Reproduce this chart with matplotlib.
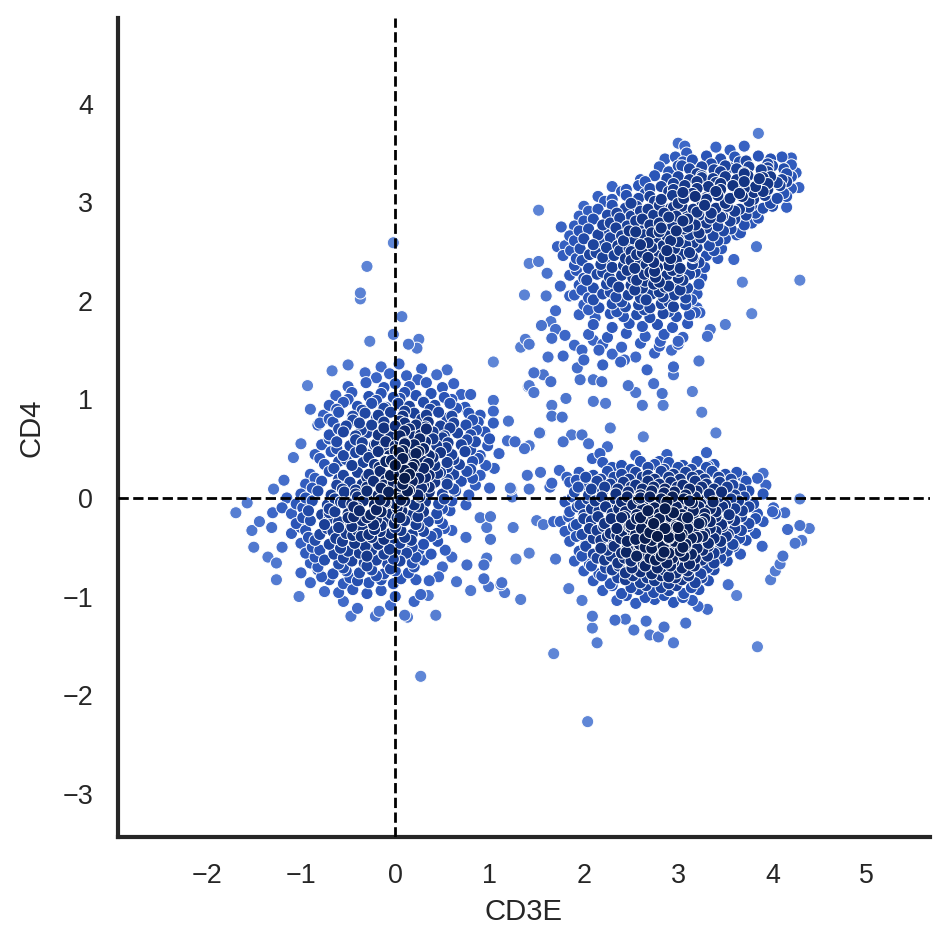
import numpy as np
import matplotlib
matplotlib.use("Agg")
import matplotlib.pyplot as plt
from matplotlib.colors import LinearSegmentedColormap

# CD4 / CD3E scatter

# left cluster (CD3E ~ 0) - dense body
left_core = [
    (-0.15, 1.33), (0.04, 1.36), (0.28, 1.31), (-0.32, 1.27), (-0.2, 1.22), (-0.06, 1.26), (0.12, 1.24), (0.24, 1.2), (0.44, 1.25),
    (-0.5, 1.13), (-0.31, 1.17), (-0.12, 1.12), (0.0, 1.16), (0.15, 1.13), (0.33, 1.17), (0.5, 1.12), (0.62, 1.16),
    (-0.63, 1.04), (-0.46, 1.07), (-0.28, 1.03), (-0.15, 1.06), (-0.02, 1.02), (0.1, 1.07), (0.22, 1.04), (0.38, 1.06), (0.52, 1.02), (0.7, 1.05),
    (-0.7, 0.94), (-0.55, 0.97), (-0.4, 0.93), (-0.25, 0.96), (-0.1, 0.92), (0.03, 0.96), (0.15, 0.93), (0.3, 0.97), (0.42, 0.94), (0.58, 0.96), (0.74, 0.92),
    (-0.76, 0.84), (-0.6, 0.87), (-0.45, 0.83), (-0.32, 0.86), (-0.18, 0.84), (-0.05, 0.87), (0.08, 0.83), (0.2, 0.86), (0.33, 0.84), (0.46, 0.87), (0.6, 0.83), (0.78, 0.86), (0.9, 0.84),
    (-0.82, 0.74), (-0.66, 0.77), (-0.52, 0.73), (-0.38, 0.76), (-0.25, 0.74), (-0.12, 0.77), (0.0, 0.73), (0.1, 0.76), (0.22, 0.74), (0.35, 0.77), (0.48, 0.73), (0.62, 0.76), (0.75, 0.74), (0.88, 0.77),
    (-0.7, 0.64), (-0.55, 0.67), (-0.42, 0.63), (-0.3, 0.66), (-0.18, 0.64), (-0.06, 0.67), (0.05, 0.63), (0.16, 0.66), (0.27, 0.64), (0.4, 0.67), (0.52, 0.63), (0.66, 0.66), (0.8, 0.64), (0.95, 0.67),
    (-0.78, 0.54), (-0.62, 0.57), (-0.48, 0.53), (-0.35, 0.56), (-0.22, 0.54), (-0.1, 0.57), (0.0, 0.53), (0.1, 0.56), (0.2, 0.54), (0.32, 0.57), (0.44, 0.53), (0.56, 0.56), (0.7, 0.54), (0.85, 0.57), (0.98, 0.53),
    (-0.85, 0.44), (-0.68, 0.47), (-0.55, 0.43), (-0.42, 0.46), (-0.3, 0.44), (-0.18, 0.47), (-0.06, 0.43), (0.04, 0.46), (0.14, 0.44), (0.25, 0.47), (0.36, 0.43), (0.48, 0.46), (0.6, 0.44), (0.74, 0.47), (0.9, 0.43),
    (-0.75, 0.34), (-0.6, 0.37), (-0.46, 0.33), (-0.34, 0.36), (-0.22, 0.34), (-0.1, 0.37), (0.0, 0.33), (0.1, 0.36), (0.2, 0.34), (0.3, 0.37), (0.42, 0.33), (0.55, 0.36), (0.68, 0.34), (0.82, 0.37), (0.96, 0.33),
    (-0.9, 0.24), (-0.7, 0.27), (-0.55, 0.23), (-0.4, 0.26), (-0.28, 0.24), (-0.16, 0.27), (-0.05, 0.23), (0.05, 0.26), (0.15, 0.24), (0.25, 0.27), (0.36, 0.23), (0.48, 0.26), (0.62, 0.24), (0.76, 0.27), (0.9, 0.23),
    (-0.95, 0.14), (-0.78, 0.17), (-0.62, 0.13), (-0.48, 0.16), (-0.35, 0.14), (-0.23, 0.17), (-0.12, 0.13), (-0.02, 0.16), (0.08, 0.14), (0.18, 0.17), (0.3, 0.13), (0.42, 0.16), (0.55, 0.14), (0.7, 0.17), (0.85, 0.13),
    (-1.0, 0.04), (-0.82, 0.07), (-0.68, 0.03), (-0.54, 0.06), (-0.42, 0.04), (-0.3, 0.07), (-0.18, 0.03), (-0.07, 0.06), (0.03, 0.04), (0.13, 0.07), (0.24, 0.03), (0.36, 0.06), (0.5, 0.04), (0.64, 0.07), (0.78, 0.03),
    (-1.05, -0.06), (-0.88, -0.03), (-0.72, -0.07), (-0.58, -0.04), (-0.46, -0.06), (-0.34, -0.03), (-0.22, -0.07), (-0.11, -0.04), (0.0, -0.06), (0.1, -0.03), (0.2, -0.07), (0.32, -0.04), (0.46, -0.06), (0.6, -0.03), (0.75, -0.07),
    (-1.1, -0.16), (-0.92, -0.13), (-0.78, -0.17), (-0.64, -0.14), (-0.5, -0.16), (-0.38, -0.13), (-0.26, -0.17), (-0.15, -0.14), (-0.04, -0.16), (0.07, -0.13), (0.18, -0.17), (0.3, -0.14), (0.44, -0.16), (0.58, -0.13),
    (-1.05, -0.26), (-0.9, -0.23), (-0.75, -0.27), (-0.6, -0.24), (-0.47, -0.26), (-0.35, -0.23), (-0.23, -0.27), (-0.12, -0.24), (-0.01, -0.26), (0.1, -0.23), (0.22, -0.27), (0.35, -0.24), (0.5, -0.26),
    (-1.1, -0.36), (-0.95, -0.33), (-0.8, -0.37), (-0.66, -0.34), (-0.52, -0.36), (-0.4, -0.33), (-0.28, -0.37), (-0.16, -0.34), (-0.05, -0.36), (0.06, -0.33), (0.18, -0.37), (0.3, -0.34), (0.44, -0.36), (0.6, -0.33),
    (-1.0, -0.46), (-0.85, -0.43), (-0.7, -0.47), (-0.56, -0.44), (-0.43, -0.46), (-0.3, -0.43), (-0.18, -0.47), (-0.06, -0.44), (0.05, -0.46), (0.17, -0.43), (0.3, -0.47), (0.45, -0.44),
    (-0.95, -0.56), (-0.8, -0.53), (-0.65, -0.57), (-0.5, -0.54), (-0.38, -0.56), (-0.25, -0.53), (-0.12, -0.57), (0.0, -0.54), (0.12, -0.56), (0.25, -0.53), (0.38, -0.57),
    (-0.9, -0.66), (-0.75, -0.63), (-0.6, -0.67), (-0.46, -0.64), (-0.33, -0.66), (-0.2, -0.63), (-0.08, -0.67), (0.05, -0.64), (0.18, -0.66), (0.3, -0.63),
    (-1.0, -0.76), (-0.82, -0.73), (-0.66, -0.77), (-0.52, -0.74), (-0.38, -0.76), (-0.25, -0.73), (-0.12, -0.77), (0.0, -0.74), (0.14, -0.76),
    (-0.9, -0.86), (-0.7, -0.83), (-0.55, -0.87), (-0.4, -0.84), (-0.28, -0.86), (-0.15, -0.83), (-0.02, -0.87),
    (-0.6, -0.96), (-0.45, -0.93), (-0.3, -0.97), (-0.15, -0.94),
]
left_fill = [
    (-0.5, 1.0), (-0.2, 0.99), (0.05, 1.01), (0.3, 0.98), (0.6, 1.0),
    (-0.62, 0.9), (-0.35, 0.89), (-0.12, 0.91), (0.1, 0.88), (0.37, 0.9), (0.65, 0.91),
    (-0.7, 0.8), (-0.45, 0.79), (-0.2, 0.81), (0.05, 0.78), (0.28, 0.8), (0.55, 0.81), (0.82, 0.79),
    (-0.6, 0.7), (-0.36, 0.69), (-0.12, 0.71), (0.1, 0.68), (0.33, 0.7), (0.58, 0.71), (0.86, 0.69),
    (-0.7, 0.6), (-0.42, 0.59), (-0.16, 0.61), (0.05, 0.58), (0.26, 0.6), (0.5, 0.61), (0.76, 0.59),
    (-0.62, 0.5), (-0.36, 0.49), (-0.12, 0.51), (0.08, 0.48), (0.3, 0.5), (0.54, 0.51), (0.8, 0.49),
    (-0.8, 0.4), (-0.52, 0.39), (-0.28, 0.41), (-0.04, 0.38), (0.16, 0.4), (0.4, 0.41), (0.62, 0.39), (0.88, 0.4),
    (-0.65, 0.3), (-0.4, 0.29), (-0.17, 0.31), (0.1, 0.28), (0.3, 0.3), (0.55, 0.31), (0.8, 0.29),
    (-0.85, 0.2), (-0.6, 0.19), (-0.3, 0.21), (-0.1, 0.18), (0.1, 0.2), (0.32, 0.21), (0.55, 0.19), (0.82, 0.2),
    (-0.88, 0.1), (-0.56, 0.09), (-0.3, 0.11), (-0.07, 0.08), (0.13, 0.1), (0.36, 0.11), (0.62, 0.09),
    (-0.95, 0.0), (-0.64, -0.01), (-0.4, 0.01), (-0.16, -0.02), (0.05, 0.0), (0.26, 0.01), (0.52, -0.01),
    (-0.98, -0.1), (-0.7, -0.11), (-0.44, -0.09), (-0.2, -0.12), (0.02, -0.1), (0.25, -0.09), (0.5, -0.11),
    (-0.98, -0.2), (-0.7, -0.21), (-0.44, -0.19), (-0.2, -0.22), (0.02, -0.2), (0.24, -0.19), (0.45, -0.21),
    (-1.0, -0.3), (-0.72, -0.31), (-0.46, -0.29), (-0.22, -0.32), (0.0, -0.3), (0.25, -0.29), (0.52, -0.31),
    (-0.92, -0.4), (-0.63, -0.41), (-0.36, -0.39), (-0.12, -0.42), (0.1, -0.4), (0.38, -0.39),
    (-0.88, -0.5), (-0.58, -0.51), (-0.32, -0.49), (-0.06, -0.52), (0.18, -0.5),
    (-0.85, -0.6), (-0.55, -0.61), (-0.3, -0.59), (-0.02, -0.62), (0.22, -0.6),
    (-0.82, -0.7), (-0.55, -0.71), (-0.3, -0.69), (-0.05, -0.72), (0.2, -0.7),
    (-0.78, -0.8), (-0.48, -0.81), (-0.2, -0.79), (0.06, -0.82),
]
left_dense = [
    (0.05, 0.12), (0.12, 0.22), (0.18, 0.31), (0.08, 0.4), (0.22, 0.45), (0.02, 0.3), (-0.05, 0.18), (0.15, 0.08),
    (0.25, 0.2), (0.1, 0.55), (0.3, 0.5), (0.2, 0.62), (0.0, 0.48), (-0.1, 0.38), (0.35, 0.35), (0.28, 0.1),
    (-0.02, 0.05), (0.06, -0.02), (-0.15, 0.1), (0.4, 0.6), (0.15, 0.7), (-0.2, 0.55), (-0.3, 0.0), (-0.4, -0.1),
    (-0.5, -0.2), (-0.2, -0.12), (-0.35, -0.3), (-0.25, -0.4), (-0.45, -0.38), (-0.55, -0.05), (-0.15, -0.28),
    (-0.6, -0.3), (-0.1, -0.05), (-0.3, -0.2), (0.05, -0.2), (-0.42, 0.08), (-0.7, -0.15), (-0.05, 0.62),
    (0.45, 0.25), (0.32, 0.72),
]
left_sparse = [
    (-0.02, 2.59), (-0.30, 2.35), (-0.37, 2.08), (-0.37, 2.02), (0.07, 1.84), (-0.02, 1.66), (-0.27, 1.59),
    (0.25, 1.61), (0.14, 1.56), (0.23, 1.52), (-0.67, 1.29), (-0.93, 1.14), (-0.80, 0.76), (-1.08, 0.41),
    (-1.18, 0.18), (-1.29, 0.09), (-1.57, -0.05), (-1.69, -0.15), (-1.44, -0.24), (-1.52, -0.33), (-1.50, -0.50),
    (-1.31, -0.30), (-1.26, -0.66), (-1.26, -0.83), (-1.02, -1.00), (-0.47, -1.20), (-0.40, -1.12), (-0.21, -1.20),
    (-0.17, -1.15), (-0.05, -1.09), (0.10, -1.19), (0.13, -1.21), (0.43, -1.19), (0.27, -1.81), (0.27, -0.98),
    (0.35, -0.99), (0.22, -0.83), (0.36, -0.84), (0.46, -0.80), (0.76, -0.68), (0.80, -0.94), (0.94, -0.68),
    (0.94, -0.82), (0.99, -0.90), (1.12, -0.88), (1.16, -0.96), (1.33, -1.03), (1.28, -0.62), (1.42, -0.56),
    (1.25, -0.30), (0.97, -0.61), (1.01, -0.42), (0.97, -0.30), (1.01, -0.19), (1.22, 0.10), (1.42, 0.09),
    (1.54, 0.26), (1.40, 0.23), (1.20, 0.78), (1.19, 0.58), (1.27, 0.57), (1.37, 0.50), (1.42, 0.53),
    (1.53, 0.66), (1.04, 1.38), (1.04, 0.99), (1.04, 0.88), (1.04, 0.76), (1.42, 1.14), (1.47, 1.07),
    (-0.5, 1.35), (0.55, 1.3), (0.8, 1.05), (1.0, 0.6), (1.1, 0.45), (1.05, 0.3), (1.0, 0.1), (0.9, -0.2),
    (0.75, -0.4), (0.6, -0.6), (0.5, -0.7), (-1.2, -0.5), (-1.15, 0.0), (-1.0, 0.55), (-0.9, 0.9),
    (-0.55, -1.05), (-0.75, -0.95), (0.0, -1.0), (0.2, -1.05), (-1.2, -0.1), (-1.35, -0.6), (-1.3, -0.15),
    (0.53, -0.53), (0.65, -0.85),
]

# upper right cluster (CD3E+ CD4+)
upper_core = [
    (3.4, 3.56), (3.55, 3.53), (3.7, 3.57),
    (2.97, 3.46), (3.15, 3.43), (3.3, 3.47), (3.45, 3.44), (3.6, 3.46), (3.72, 3.42), (3.85, 3.47), (3.98, 3.44), (4.1, 3.46),
    (2.8, 3.36), (3.0, 3.37), (3.12, 3.34), (3.25, 3.36), (3.38, 3.33), (3.5, 3.37), (3.62, 3.34), (3.75, 3.36), (3.88, 3.33), (4.0, 3.37), (4.12, 3.34), (4.2, 3.38),
    (2.6, 3.23), (2.75, 3.27), (2.88, 3.24), (3.0, 3.26), (3.12, 3.23), (3.25, 3.27), (3.37, 3.24), (3.5, 3.26), (3.62, 3.23), (3.74, 3.27), (3.86, 3.24), (3.98, 3.26), (4.1, 3.23), (4.2, 3.26),
    (2.3, 3.16), (2.45, 3.13), (2.58, 3.17), (2.7, 3.14), (2.82, 3.16), (2.95, 3.13), (3.07, 3.17), (3.2, 3.14), (3.32, 3.16), (3.45, 3.13), (3.58, 3.17), (3.7, 3.14), (3.82, 3.16), (3.95, 3.13), (4.08, 3.17), (4.2, 3.14),
    (2.15, 3.06), (2.3, 3.03), (2.45, 3.07), (2.58, 3.04), (2.7, 3.06), (2.82, 3.03), (2.94, 3.07), (3.06, 3.04), (3.18, 3.06), (3.3, 3.03), (3.42, 3.07), (3.55, 3.04), (3.68, 3.06), (3.8, 3.03), (3.92, 3.07), (4.05, 3.04), (4.15, 3.06),
    (2.0, 2.96), (2.15, 2.93), (2.3, 2.97), (2.44, 2.94), (2.56, 2.96), (2.68, 2.93), (2.8, 2.97), (2.92, 2.94), (3.04, 2.96), (3.16, 2.93), (3.28, 2.97), (3.4, 2.94), (3.52, 2.96), (3.65, 2.93), (3.78, 2.97), (3.9, 2.94), (4.0, 2.96),
    (1.95, 2.86), (2.1, 2.83), (2.25, 2.87), (2.38, 2.84), (2.5, 2.86), (2.62, 2.83), (2.74, 2.87), (2.86, 2.84), (2.98, 2.86), (3.1, 2.83), (3.22, 2.87), (3.34, 2.84), (3.47, 2.86), (3.6, 2.83), (3.72, 2.87), (3.85, 2.84),
    (1.9, 2.76), (2.05, 2.73), (2.2, 2.77), (2.34, 2.74), (2.46, 2.76), (2.58, 2.73), (2.7, 2.77), (2.82, 2.74), (2.94, 2.76), (3.06, 2.73), (3.18, 2.77), (3.3, 2.74), (3.42, 2.76), (3.56, 2.73), (3.7, 2.77),
    (1.85, 2.66), (2.0, 2.63), (2.15, 2.67), (2.28, 2.64), (2.4, 2.66), (2.52, 2.63), (2.64, 2.67), (2.76, 2.64), (2.88, 2.66), (3.0, 2.63), (3.12, 2.67), (3.24, 2.64), (3.37, 2.66), (3.5, 2.63), (3.62, 2.67),
    (1.8, 2.56), (1.96, 2.53), (2.1, 2.57), (2.24, 2.54), (2.36, 2.56), (2.48, 2.53), (2.6, 2.57), (2.72, 2.54), (2.84, 2.56), (2.96, 2.53), (3.08, 2.57), (3.2, 2.54), (3.33, 2.56), (3.46, 2.53),
    (1.78, 2.46), (1.92, 2.43), (2.06, 2.47), (2.2, 2.44), (2.32, 2.46), (2.44, 2.43), (2.56, 2.47), (2.68, 2.44), (2.8, 2.46), (2.92, 2.43), (3.04, 2.47), (3.16, 2.44), (3.3, 2.46), (3.42, 2.43),
    (1.9, 2.36), (2.05, 2.33), (2.18, 2.37), (2.3, 2.34), (2.42, 2.36), (2.54, 2.33), (2.66, 2.37), (2.78, 2.34), (2.9, 2.36), (3.02, 2.33), (3.15, 2.37), (3.28, 2.34),
    (1.85, 2.26), (2.0, 2.23), (2.14, 2.27), (2.27, 2.24), (2.4, 2.26), (2.52, 2.23), (2.64, 2.27), (2.76, 2.24), (2.88, 2.26), (3.0, 2.23), (3.12, 2.27), (3.25, 2.24),
    (1.95, 2.16), (2.1, 2.13), (2.24, 2.17), (2.37, 2.14), (2.5, 2.16), (2.62, 2.13), (2.74, 2.17), (2.86, 2.14), (2.98, 2.16), (3.1, 2.13), (3.22, 2.17),
    (1.9, 2.06), (2.05, 2.03), (2.2, 2.07), (2.34, 2.04), (2.47, 2.06), (2.6, 2.03), (2.72, 2.07), (2.84, 2.04), (2.96, 2.06), (3.08, 2.03), (3.2, 2.07),
    (2.0, 1.96), (2.16, 1.93), (2.3, 1.97), (2.44, 1.94), (2.58, 1.96), (2.7, 1.93), (2.82, 1.97), (2.95, 1.94), (3.08, 1.96), (3.2, 1.93),
    (1.95, 1.86), (2.12, 1.83), (2.28, 1.87), (2.42, 1.84), (2.56, 1.86), (2.7, 1.83), (2.84, 1.87), (2.98, 1.84), (3.12, 1.86),
    (2.1, 1.76), (2.3, 1.73), (2.48, 1.77), (2.62, 1.74), (2.78, 1.76), (2.94, 1.73), (3.1, 1.77),
    (2.05, 1.66), (2.25, 1.63), (2.45, 1.67), (2.65, 1.64), (2.85, 1.66), (3.05, 1.63),
    (2.2, 1.56), (2.4, 1.53), (2.6, 1.57), (2.8, 1.54), (3.0, 1.56),
    (2.3, 1.46), (2.55, 1.43), (2.75, 1.47),
]
upper_fill = [
    (3.05, 3.41), (3.35, 3.39), (3.65, 3.41), (3.95, 3.39),
    (2.9, 3.31), (3.2, 3.29), (3.45, 3.31), (3.7, 3.29), (3.95, 3.31), (4.15, 3.29),
    (2.65, 3.21), (2.95, 3.19), (3.2, 3.21), (3.45, 3.19), (3.7, 3.21), (3.95, 3.19), (4.15, 3.21),
    (2.4, 3.11), (2.65, 3.09), (2.9, 3.11), (3.15, 3.09), (3.4, 3.11), (3.65, 3.09), (3.9, 3.11), (4.12, 3.09),
    (2.22, 3.01), (2.5, 2.99), (2.75, 3.01), (3.0, 2.99), (3.25, 3.01), (3.5, 2.99), (3.75, 3.01), (3.98, 2.99),
    (2.05, 2.91), (2.35, 2.89), (2.6, 2.91), (2.85, 2.89), (3.1, 2.91), (3.35, 2.89), (3.6, 2.91), (3.82, 2.89),
    (2.0, 2.81), (2.28, 2.79), (2.55, 2.81), (2.8, 2.79), (3.05, 2.81), (3.3, 2.79), (3.55, 2.81), (3.78, 2.79),
    (1.95, 2.71), (2.22, 2.69), (2.48, 2.71), (2.72, 2.69), (2.98, 2.71), (3.22, 2.69), (3.48, 2.71), (3.66, 2.69),
    (1.9, 2.61), (2.18, 2.59), (2.42, 2.61), (2.68, 2.59), (2.92, 2.61), (3.16, 2.59), (3.42, 2.61),
    (1.86, 2.51), (2.13, 2.49), (2.38, 2.51), (2.62, 2.49), (2.88, 2.51), (3.12, 2.49), (3.38, 2.51),
    (1.98, 2.41), (2.25, 2.39), (2.5, 2.41), (2.74, 2.39), (2.98, 2.41), (3.22, 2.39),
    (1.92, 2.31), (2.2, 2.29), (2.46, 2.31), (2.7, 2.29), (2.94, 2.31), (3.18, 2.29),
    (2.03, 2.21), (2.3, 2.19), (2.56, 2.21), (2.8, 2.19), (3.05, 2.21),
    (1.98, 2.11), (2.28, 2.09), (2.54, 2.11), (2.8, 2.09), (3.02, 2.11),
    (2.1, 2.01), (2.4, 1.99), (2.66, 2.01), (2.9, 1.99), (3.14, 2.01),
    (2.05, 1.91), (2.35, 1.89), (2.64, 1.91), (2.9, 1.89),
]
upper_dense = [
    (2.6, 2.4), (2.7, 2.55), (2.8, 2.7), (2.9, 2.85), (3.0, 2.6), (3.1, 2.75), (2.75, 2.3), (2.85, 2.45),
    (2.95, 2.95), (3.05, 3.1), (3.2, 2.9), (3.3, 3.05), (3.4, 3.2), (3.5, 3.0), (3.6, 3.15), (3.7, 3.3),
    (3.8, 3.1), (3.9, 3.25), (3.55, 3.35), (3.25, 3.25), (2.65, 2.2), (2.5, 2.5), (3.15, 2.45), (3.0, 2.3),
    (2.55, 2.7), (3.45, 2.85), (3.95, 3.35), (4.05, 3.2), (3.75, 2.95), (2.9, 2.15),
]
upper_sparse = [
    (3.85, 3.70), (3.00, 3.60), (3.07, 3.57), (3.09, 3.50), (2.86, 3.44), (3.04, 3.37), (1.52, 2.92), (1.76, 2.75),
    (4.29, 2.21), (3.78, 1.87), (3.68, 2.19), (3.59, 2.42), (3.83, 2.55), (1.42, 2.38), (1.52, 2.40), (1.37, 2.06),
    (1.61, 2.28), (1.33, 1.53), (1.42, 1.56), (1.38, 1.61), (1.54, 0.66), (1.47, 1.27), (1.41, 1.13),
    (1.66, 0.94), (1.77, 0.82), (1.66, 0.83), (1.87, 0.64), (1.98, 0.64), (2.28, 0.71), (2.63, 0.62), (2.10, 0.98),
    (2.23, 0.96), (1.81, 1.01), (3.15, 1.08), (3.25, 0.87), (3.40, 0.66), (2.84, 0.94), (2.62, 0.94), (2.74, 1.16),
    (2.83, 1.06), (2.95, 1.33), (2.95, 1.25), (3.22, 1.39), (3.50, 1.76), (3.18, 1.88), (3.23, 1.88), (3.31, 1.64),
    (3.34, 1.71), (2.67, 1.30), (2.47, 1.14), (2.55, 1.07), (2.39, 1.38), (2.43, 1.40), (1.96, 1.20), (2.10, 1.20),
    (2.19, 1.18), (1.93, 1.32), (1.57, 1.25), (1.65, 1.18), (2.16, 1.50), (1.98, 1.50), (1.78, 1.44), (1.62, 1.43),
    (1.66, 1.62), (1.70, 1.71), (1.65, 1.79), (2.81, 1.59), (2.93, 1.50), (3.00, 1.59), (4.25, 3.3), (4.28, 3.15),
    (4.2, 3.45), (4.15, 2.95), (1.7, 1.9), (1.85, 2.05), (1.75, 2.15), (1.6, 2.05), (1.72, 2.55), (1.55, 1.75),
    (1.8, 1.65), (1.9, 1.55), (2.0, 1.4), (2.2, 1.35), (2.1, 1.6),
]

# lower right cluster (CD3E+ CD4-)
lower_core = [
    (2.2, 0.36), (2.4, 0.33), (2.6, 0.37), (2.75, 0.34), (2.9, 0.36), (3.05, 0.33), (3.2, 0.37), (3.38, 0.34),
    (1.95, 0.26), (2.1, 0.23), (2.25, 0.27), (2.4, 0.24), (2.55, 0.26), (2.68, 0.23), (2.82, 0.27), (2.95, 0.24), (3.08, 0.26), (3.22, 0.23), (3.36, 0.27), (3.5, 0.24), (3.62, 0.26),
    (1.85, 0.16), (2.0, 0.13), (2.14, 0.17), (2.28, 0.14), (2.42, 0.16), (2.55, 0.13), (2.68, 0.17), (2.8, 0.14), (2.92, 0.16), (3.05, 0.13), (3.18, 0.17), (3.3, 0.14), (3.44, 0.16), (3.58, 0.13), (3.72, 0.17),
    (1.9, 0.06), (2.05, 0.03), (2.2, 0.07), (2.34, 0.04), (2.47, 0.06), (2.6, 0.03), (2.72, 0.07), (2.84, 0.04), (2.96, 0.06), (3.08, 0.03), (3.2, 0.07), (3.33, 0.04), (3.46, 0.06), (3.6, 0.03), (3.75, 0.07), (3.9, 0.04),
    (1.8, -0.04), (1.96, -0.07), (2.12, -0.03), (2.26, -0.06), (2.4, -0.04), (2.52, -0.07), (2.64, -0.03), (2.76, -0.06), (2.88, -0.04), (3.0, -0.07), (3.12, -0.03), (3.24, -0.06), (3.37, -0.04), (3.5, -0.07), (3.64, -0.03), (3.8, -0.06),
    (1.85, -0.14), (2.0, -0.17), (2.16, -0.13), (2.3, -0.16), (2.44, -0.14), (2.56, -0.17), (2.68, -0.13), (2.8, -0.16), (2.92, -0.14), (3.04, -0.17), (3.16, -0.13), (3.28, -0.16), (3.4, -0.14), (3.54, -0.17), (3.68, -0.13), (3.84, -0.16), (4.0, -0.14),
    (1.75, -0.24), (1.92, -0.27), (2.08, -0.23), (2.22, -0.26), (2.36, -0.24), (2.5, -0.27), (2.62, -0.23), (2.74, -0.26), (2.86, -0.24), (2.98, -0.27), (3.1, -0.23), (3.22, -0.26), (3.34, -0.24), (3.46, -0.27), (3.6, -0.23), (3.75, -0.26), (3.9, -0.24),
    (1.8, -0.34), (1.98, -0.37), (2.14, -0.33), (2.28, -0.36), (2.42, -0.34), (2.55, -0.37), (2.68, -0.33), (2.8, -0.36), (2.92, -0.34), (3.04, -0.37), (3.16, -0.33), (3.28, -0.36), (3.4, -0.34), (3.53, -0.37), (3.67, -0.33), (3.82, -0.36),
    (1.85, -0.44), (2.02, -0.47), (2.18, -0.43), (2.32, -0.46), (2.46, -0.44), (2.59, -0.47), (2.72, -0.43), (2.84, -0.46), (2.96, -0.44), (3.08, -0.47), (3.2, -0.43), (3.32, -0.46), (3.45, -0.44), (3.58, -0.47), (3.72, -0.43),
    (1.95, -0.54), (2.1, -0.57), (2.25, -0.53), (2.4, -0.56), (2.53, -0.54), (2.66, -0.57), (2.78, -0.53), (2.9, -0.56), (3.02, -0.54), (3.14, -0.57), (3.26, -0.53), (3.38, -0.56), (3.52, -0.54), (3.66, -0.57),
    (1.9, -0.64), (2.06, -0.67), (2.22, -0.63), (2.36, -0.66), (2.5, -0.64), (2.63, -0.67), (2.76, -0.63), (2.88, -0.66), (3.0, -0.64), (3.12, -0.67), (3.25, -0.63), (3.38, -0.66), (3.52, -0.64),
    (2.0, -0.74), (2.16, -0.77), (2.3, -0.73), (2.44, -0.76), (2.58, -0.74), (2.72, -0.77), (2.85, -0.73), (2.98, -0.76), (3.1, -0.74), (3.24, -0.77), (3.38, -0.73),
    (2.1, -0.84), (2.28, -0.87), (2.44, -0.83), (2.6, -0.86), (2.75, -0.84), (2.9, -0.87), (3.04, -0.83), (3.18, -0.86), (3.32, -0.84),
    (2.2, -0.94), (2.4, -0.97), (2.58, -0.93), (2.74, -0.96), (2.9, -0.94), (3.06, -0.97), (3.22, -0.93),
    (2.35, -1.04), (2.55, -1.07), (2.75, -1.03), (2.95, -1.06), (3.15, -1.04),
]
lower_fill = [
    (2.3, 0.31), (2.5, 0.29), (2.68, 0.31), (2.85, 0.29), (3.0, 0.31), (3.14, 0.29), (3.3, 0.31),
    (2.02, 0.21), (2.18, 0.19), (2.32, 0.21), (2.48, 0.19), (2.62, 0.21), (2.75, 0.19), (2.9, 0.21), (3.02, 0.19), (3.15, 0.21), (3.28, 0.19), (3.43, 0.21), (3.56, 0.19),
    (1.94, 0.11), (2.08, 0.09), (2.22, 0.11), (2.36, 0.09), (2.5, 0.11), (2.62, 0.09), (2.74, 0.11), (2.86, 0.09), (2.99, 0.11), (3.12, 0.09), (3.25, 0.11), (3.38, 0.09), (3.52, 0.11), (3.66, 0.09),
    (1.88, 0.01), (2.04, -0.01), (2.19, 0.01), (2.33, -0.01), (2.46, 0.01), (2.58, -0.01), (2.7, 0.01), (2.82, -0.01), (2.94, 0.01), (3.06, -0.01), (3.18, 0.01), (3.3, -0.01), (3.43, 0.01), (3.56, -0.01), (3.7, 0.01),
    (1.93, -0.09), (2.08, -0.11), (2.23, -0.09), (2.37, -0.11), (2.5, -0.09), (2.62, -0.11), (2.74, -0.09), (2.86, -0.11), (2.98, -0.09), (3.1, -0.11), (3.22, -0.09), (3.34, -0.11), (3.47, -0.09), (3.6, -0.11), (3.75, -0.09),
    (1.84, -0.19), (2.0, -0.21), (2.15, -0.19), (2.29, -0.21), (2.43, -0.19), (2.56, -0.21), (2.68, -0.19), (2.8, -0.21), (2.92, -0.19), (3.04, -0.21), (3.16, -0.19), (3.28, -0.21), (3.4, -0.19), (3.53, -0.21), (3.67, -0.19), (3.82, -0.21),
    (1.89, -0.29), (2.06, -0.31), (2.21, -0.29), (2.35, -0.31), (2.48, -0.29), (2.61, -0.31), (2.74, -0.29), (2.86, -0.31), (2.98, -0.29), (3.1, -0.31), (3.22, -0.29), (3.34, -0.31), (3.47, -0.29), (3.6, -0.31), (3.74, -0.29),
    (1.92, -0.39), (2.1, -0.41), (2.25, -0.39), (2.39, -0.41), (2.52, -0.39), (2.65, -0.41), (2.78, -0.39), (2.9, -0.41), (3.02, -0.39), (3.14, -0.41), (3.26, -0.39), (3.38, -0.41), (3.51, -0.39), (3.65, -0.41),
    (2.02, -0.49), (2.18, -0.51), (2.32, -0.49), (2.46, -0.51), (2.6, -0.49), (2.72, -0.51), (2.84, -0.49), (2.96, -0.51), (3.08, -0.49), (3.2, -0.51), (3.32, -0.49), (3.45, -0.51), (3.59, -0.49),
    (1.98, -0.59), (2.14, -0.61), (2.29, -0.59), (2.43, -0.61), (2.56, -0.59), (2.7, -0.61), (2.82, -0.59), (2.94, -0.61), (3.06, -0.59), (3.18, -0.61), (3.31, -0.59), (3.45, -0.61),
    (2.08, -0.69), (2.23, -0.71), (2.37, -0.69), (2.51, -0.71), (2.65, -0.69), (2.78, -0.71), (2.92, -0.69), (3.04, -0.71), (3.17, -0.69), (3.31, -0.71),
    (2.19, -0.79), (2.36, -0.81), (2.52, -0.79), (2.67, -0.81), (2.82, -0.79), (2.97, -0.81), (3.11, -0.79), (3.25, -0.81),
    (2.3, -0.89), (2.5, -0.91), (2.66, -0.89), (2.82, -0.91), (2.98, -0.89), (3.14, -0.91),
    (2.45, -0.99), (2.65, -1.01), (2.85, -0.99), (3.05, -1.01),
]
lower_dense = [
    (2.5, -0.3), (2.6, -0.2), (2.7, -0.35), (2.8, -0.25), (2.9, -0.4), (3.0, -0.3), (2.65, -0.5), (2.85, -0.55),
    (3.05, -0.5), (2.75, -0.1), (2.95, -0.15), (3.1, -0.2), (2.55, -0.42), (2.4, -0.2), (3.2, -0.4), (2.7, -0.65),
    (2.95, -0.65), (2.6, 0.0), (2.85, 0.05), (3.15, -0.05), (2.45, -0.55), (3.25, -0.25), (2.35, -0.38),
    (2.9, -0.8), (2.6, -0.75),
]
lower_sparse = [
    (2.04, -2.27), (1.68, -1.58), (3.84, -1.51), (2.14, -1.47), (2.09, -1.32), (2.09, -1.20), (1.13, -0.86),
    (1.70, -0.62), (1.50, -0.23), (1.57, -0.27), (1.68, -0.24), (1.23, 0.09), (1.24, 0.01), (1.66, 0.15),
    (1.64, 0.11), (1.74, 0.28), (1.82, 0.21), (1.92, 0.18), (1.78, 0.57), (2.05, 0.55), (2.25, 0.52), (2.17, 0.45),
    (2.09, 0.40), (2.55, 0.43), (3.30, 0.46), (3.32, 0.32), (2.88, 0.44), (2.80, 0.37), (3.68, 0.22),
    (3.84, 0.20), (3.90, 0.25), (3.93, 0.13), (3.63, 0.09), (4.29, -0.01), (4.01, -0.10), (4.13, -0.15),
    (4.03, -0.16), (4.29, -0.28), (4.39, -0.31), (4.16, -0.32), (4.31, -0.43), (4.24, -0.46), (4.11, -0.59),
    (4.08, -0.67), (4.03, -0.74), (3.98, -0.83), (3.89, -0.49), (3.62, -0.99), (3.53, -0.88), (3.31, -1.13),
    (3.21, -1.10), (3.08, -1.27), (2.95, -1.47), (2.79, -1.41), (2.70, -1.39), (2.85, -1.31), (2.66, -1.25),
    (2.53, -1.34), (2.44, -1.23), (2.33, -1.24), (1.84, -0.92), (1.98, -1.04),
]

pts = np.array(left_core + left_fill + left_dense + left_sparse
               + upper_core + upper_fill + upper_dense + upper_sparse
               + lower_core + lower_fill + lower_dense + lower_sparse)
x, y = pts[:, 0], pts[:, 1]

# colour by local point density (neighbour count)
dist = np.hypot(x[:, None] - x[None, :], y[:, None] - y[None, :])
dens = (dist < 0.3).sum(axis=1).astype(float)
order = np.argsort(dens)

cmap = LinearSegmentedColormap.from_list(
    "dens", ["#5f86d6", "#3c66c6", "#2853b5", "#1a3f95", "#0f2b72", "#071a48"])

plt.rcParams["font.family"] = ["Liberation Sans", "DejaVu Sans"]
plt.rcParams["text.color"] = "#262626"
plt.rcParams["axes.labelcolor"] = "#262626"
plt.rcParams["xtick.color"] = "#262626"
plt.rcParams["ytick.color"] = "#262626"

fig = plt.figure(figsize=(4.73, 4.75), dpi=200)
ax = fig.add_axes([0.1247, 0.119, 0.8584, 0.862])

ax.scatter(x[order], y[order], c=dens[order], cmap=cmap, s=19,
           edgecolors="white", linewidths=0.35, zorder=2)
ax.axvline(0, color="black", linestyle="--", linewidth=1.0, zorder=3)
ax.axhline(0, color="black", linestyle="--", linewidth=1.0, zorder=3)

ax.set_xlim(-2.94, 5.67)
ax.set_ylim(-3.44, 4.87)
ax.set_xticks(range(-2, 6))
ax.set_yticks(range(-3, 5))
ax.tick_params(axis="x", length=0, pad=9.5, labelsize=9.68)
ax.tick_params(axis="y", length=0, pad=9, labelsize=9.68)

for side in ["top", "right"]:
    ax.spines[side].set_visible(False)
for side in ["left", "bottom"]:
    ax.spines[side].set_linewidth(1.5)
    ax.spines[side].set_color("#262626")

ax.set_xlabel("CD3E", fontsize=10.56, labelpad=3)
ax.set_ylabel("CD4", fontsize=10.56, labelpad=6)

fig.savefig("out.png", dpi=200)
